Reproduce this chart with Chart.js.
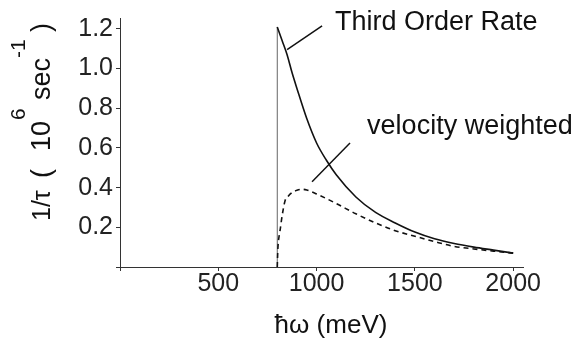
<!DOCTYPE html>
<html>
<head>
<meta charset="utf-8">
<script src="https://cdn.jsdelivr.net/npm/chart.js@4"></script>
<style>
  html,body{margin:0;padding:0;background:#fff;}
  #wrap{width:583px;height:339px;}
</style>
</head>
<body>
<div id="wrap"><canvas id="c"></canvas></div>
<script>
// values (x in meV, y in 10^6 sec^-1)
const rateX = [800, 825, 850, 875, 900, 950, 1000, 1050, 1100, 1200, 1300, 1400, 1500, 1600, 1700, 1800, 1900, 2000];
const rateY = [1.21, 1.14, 1.07, 0.98, 0.9, 0.748, 0.625, 0.538, 0.465, 0.353, 0.275, 0.222, 0.176, 0.142, 0.118, 0.1, 0.085, 0.07];

const velX = [800, 803, 810, 815, 825, 840, 850, 875, 900, 925, 950, 1000, 1100, 1200, 1300, 1400, 1500, 1600, 1700, 1800, 1900, 2000];
const velY = [0, 0.09, 0.16, 0.19, 0.26, 0.335, 0.35, 0.375, 0.387, 0.392, 0.388, 0.368, 0.32, 0.268, 0.222, 0.183, 0.155, 0.128, 0.104, 0.091, 0.08, 0.07];

// the jump at threshold
const jumpX = [800, 800];
const jumpY = [0, 1.21];

// leader lines for the labels
const leadRateX = [850, 1028];
const leadRateY = [1.095, 1.215];
const leadVelX = [977, 1170];
const leadVelY = [0.43, 0.625];

const xTickValues = [0, 500, 1000, 1500, 2000];
const yTickValues = [0, 0.2, 0.4, 0.6, 0.8, 1.0, 1.2];

const pts = (xs, ys) => xs.map((x, i) => ({x, y: ys[i]}));
const FONT = '"Liberation Sans", Arial, Helvetica, sans-serif';

const textPlugin = {
  id: 'texts',
  afterDraw(chart){
    const ctx = chart.ctx, sx = chart.scales.x, sy = chart.scales.y;
    ctx.save();
    ctx.fillStyle = '#111';
    ctx.textBaseline = 'alphabetic';
    ctx.textAlign = 'left';
    ctx.font = '27px ' + FONT;
    ctx.fillText('Third Order Rate', sx.getPixelForValue(1094), sy.getPixelForValue(1.195));
    ctx.fillText('velocity weighted', sx.getPixelForValue(1257), sy.getPixelForValue(0.67));

    // x title
    ctx.font = '26px ' + FONT;
    ctx.textAlign = 'center';
    ctx.fillText('ħω (meV)', 331, 333);

    // y title, rotated, with superscripts; [text, offset along axis, baseline shift, size]
    ctx.translate(50, 221);
    ctx.rotate(-Math.PI / 2);
    ctx.textAlign = 'left';
    const parts = [
      ['1/τ', 0, 0, 25],
      ['(', 43, 0, 27],
      ['10', 70, 0, 27],
      ['6', 101, -25, 21],
      ['sec', 121, 0, 27],
      ['-1', 163, -25, 21],
      [')', 189, 0, 27]
    ];
    parts.forEach(([t, x, dy, fs]) => {
      ctx.font = fs + 'px ' + FONT;
      ctx.fillText(t, x, dy);
    });
    ctx.restore();
  }
};

new Chart(document.getElementById('c'), {
  type: 'line',
  data: {
    datasets: [
      { label: 'Third Order Rate', data: pts(rateX, rateY), borderColor: '#111', borderWidth: 1.6, cubicInterpolationMode: 'monotone' },
      { label: 'velocity weighted', data: pts(velX, velY), borderColor: '#111', borderWidth: 1.6, borderDash: [5, 4], cubicInterpolationMode: 'monotone' },
      { label: 'jump', data: pts(jumpX, jumpY), borderColor: '#666', borderWidth: 1 },
      { label: 'lead1', data: pts(leadRateX, leadRateY), borderColor: '#111', borderWidth: 1.5 },
      { label: 'lead2', data: pts(leadVelX, leadVelY), borderColor: '#111', borderWidth: 1.5 }
    ]
  },
  options: {
    responsive: true,
    maintainAspectRatio: false,
    animation: false,
    elements: { point: { radius: 0 } },
    layout: { padding: { top: 16, right: 60, left: 0, bottom: 0 } },
    plugins: { legend: { display: false }, tooltip: { enabled: false } },
    scales: {
      x: {
        type: 'linear', min: 0, max: 2050,
        afterFit: s => { s.height = 72; },
        afterBuildTicks: s => { s.ticks = xTickValues.map(v => ({value: v})); },
        border: { display: true, color: '#333', width: 1 },
        grid: { drawOnChartArea: false, drawTicks: true, tickLength: 4, color: '#333' },
        ticks: {
          maxRotation: 0, padding: -2, autoSkip: false,
          color: '#222', font: { family: FONT, size: 25 },
          callback: v => v === 0 ? '' : String(v)
        }
      },
      y: {
        type: 'linear', min: 0, max: 1.255,
        afterFit: s => { s.width = 120; },
        afterBuildTicks: s => { s.ticks = yTickValues.map(v => ({value: v})); },
        border: { display: true, color: '#333', width: 1 },
        grid: { drawOnChartArea: false, drawTicks: true, tickLength: 4, color: '#333' },
        ticks: {
          padding: 3, autoSkip: false,
          color: '#222', font: { family: FONT, size: 25 },
          callback: v => v === 0 ? '' : v.toFixed(1)
        }
      }
    }
  },
  plugins: [textPlugin]
});
</script>
</body>
</html>
